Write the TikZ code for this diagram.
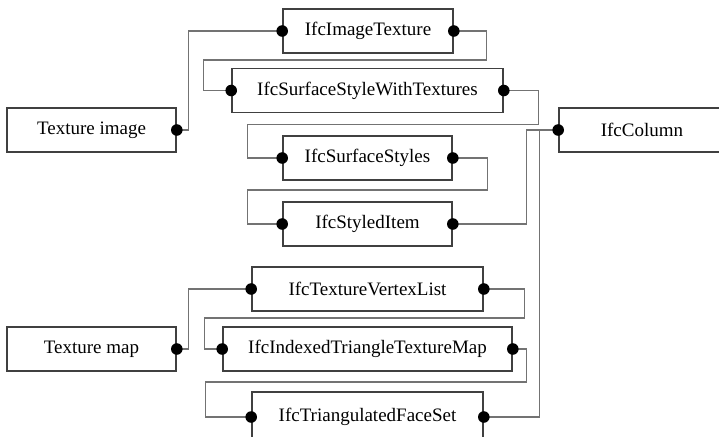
\documentclass[tikz,border=0pt]{standalone}
\usepackage{fontspec}
\setmainfont{Liberation Serif}
\usepackage{tikz}
\usetikzlibrary{arrows.meta, positioning, calc}

\begin{document}
\begin{tikzpicture}[
  x=0.5pt, y=-0.5pt,
  entity/.style={draw=black!75, fill=white, line width=0.8pt,
                 minimum height=22pt, inner sep=0pt,
                 font=\fontsize{9.5}{11}\selectfont},
  link/.style={draw=black!55, line width=0.6pt},
  pin/.style={fill=black}
]
\useasboundingbox (0,0) rectangle (719,436);

% texture image branch
\node[entity, minimum width=84.5pt] (teximg)  at (91.5,130)  {Texture image};
\node[entity, minimum width=85pt]   (imgtex)  at (368,31)    {IfcImageTexture};
\node[entity, minimum width=135.5pt](sswt)    at (367.5,90.5){IfcSurfaceStyleWithTextures};
\node[entity, minimum width=84.5pt] (sstyles) at (367.5,158) {IfcSurfaceStyles};
\node[entity, minimum width=84.5pt] (styled)  at (367.5,224) {IfcStyledItem};
\node[entity, minimum width=83pt]   (column)  at (642,130)   {IfcColumn};

% texture map branch
\node[entity, minimum width=84.5pt] (texmap)  at (91.5,349)  {Texture map};
\node[entity, minimum width=115.5pt](tvl)     at (367.5,289) {IfcTextureVertexList};
\node[entity, minimum width=144.5pt](itm)     at (367.5,349) {IfcIndexedTriangleTextureMap};
\node[entity, minimum width=115.5pt, minimum height=25pt]
                                    (tfs)     at (367.5,417) {IfcTriangulatedFaceSet};

% connectors
\draw[link] (teximg.east) -- ++(12,0) |- (imgtex.west);
\draw[link] (imgtex.east) -- ++(33,0) |- ++(-283,29) |- (sswt.west);
\draw[link] (sswt.east) -- ++(35,0) |- ++(-291,34) |- (sstyles.west);
\draw[link] (sstyles.east) -- ++(35,0) |- ++(-240,32) |- (styled.west);
\draw[link] (styled.east) -- ++(74,0) |- (column.west);
\draw[link] (tfs.east) -- ++(56,0) |- (column.west);

\draw[link] (texmap.east) -- ++(12,0) |- (tvl.west);
\draw[link] (tvl.east) -- ++(41,0) |- ++(-320,29) |- (itm.west);
\draw[link] (itm.east) -- ++(14,0) |- ++(-321,33) |- (tfs.west);

% end dots
\foreach \p in {teximg.east, imgtex.west, imgtex.east, sswt.west, sswt.east,
                sstyles.west, sstyles.east, styled.west, styled.east, column.west,
                texmap.east, tvl.west, tvl.east, itm.west, itm.east, tfs.west, tfs.east}{
  \fill[pin] (\p) circle[radius=2.9pt];
}
\end{tikzpicture}
\end{document}
